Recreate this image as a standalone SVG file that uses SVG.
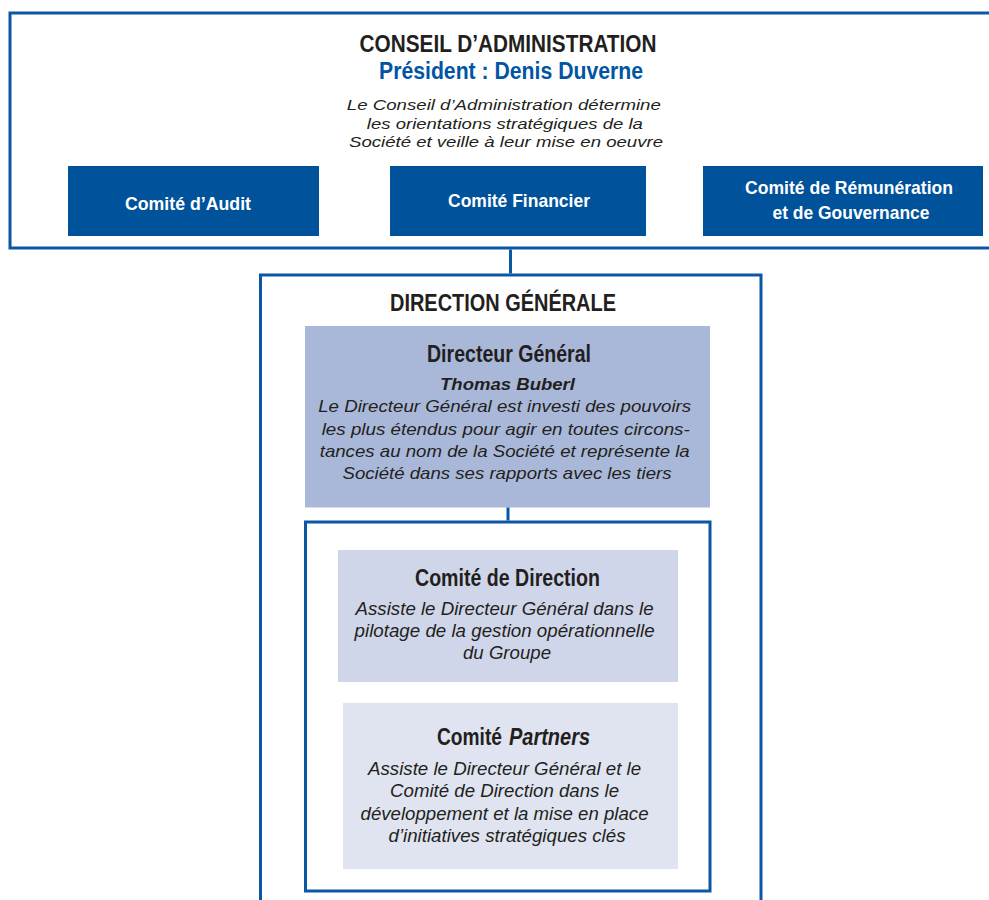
<svg xmlns="http://www.w3.org/2000/svg" width="989" height="900" viewBox="0 0 989 900">
<style>
.frame{fill:none;stroke:#0a57a3;stroke-width:3}
.conn{fill:none;stroke:#0a57a3;stroke-width:3}
.cbox{fill:#00529b}
.hd{font-family:"Liberation Sans Narrow","Liberation Sans",Arial,sans-serif;font-weight:bold;fill:#231f20;text-anchor:middle}
.wt{font-family:"Liberation Sans Narrow","Liberation Sans",Arial,sans-serif;font-weight:bold;fill:#ffffff;text-anchor:middle;font-size:19px}
.it{font-family:"Liberation Sans",Arial,sans-serif;font-style:italic;fill:#231f20;text-anchor:middle}
</style>
<rect width="989" height="900" fill="#ffffff"/>
<g id="conseil">
<rect class="frame" x="10" y="13" width="1000" height="235"/>
<text class="hd" x="508" y="52" font-size="24.5" textLength="297" lengthAdjust="spacingAndGlyphs">CONSEIL D’ADMINISTRATION</text>
<text class="hd" x="511" y="79" font-size="23" style="fill:#0055a4" textLength="264" lengthAdjust="spacingAndGlyphs">Président : Denis Duverne</text>
<text class="it" font-size="15.5">
<tspan x="506" y="110" textLength="314" lengthAdjust="spacingAndGlyphs">Le Conseil d’Administration détermine</tspan>
<tspan x="507" y="128.5" textLength="276" lengthAdjust="spacingAndGlyphs">les orientations stratégiques de la</tspan>
<tspan x="506" y="147" textLength="314" lengthAdjust="spacingAndGlyphs">Société et veille à leur mise en oeuvre</tspan>
</text>
</g>
<g id="comite-audit">
<rect class="cbox" x="68" y="166" width="251" height="70"/>
<text class="wt" x="188" y="210" textLength="126" lengthAdjust="spacingAndGlyphs">Comité d’Audit</text>
</g>
<g id="comite-financier">
<rect class="cbox" x="390" y="166" width="256" height="70"/>
<text class="wt" x="519" y="207" textLength="142" lengthAdjust="spacingAndGlyphs">Comité Financier</text>
</g>
<g id="comite-remuneration">
<rect class="cbox" x="703" y="166" width="280" height="70"/>
<text class="wt" x="849" y="194" textLength="208" lengthAdjust="spacingAndGlyphs">Comité de Rémunération</text>
<text class="wt" x="851" y="218.5" textLength="157" lengthAdjust="spacingAndGlyphs">et de Gouvernance</text>
</g>
<g id="direction-generale">
<path class="frame" d="M260.5,903 V275 H761 V903"/>
<text class="hd" x="503" y="311" font-size="24" textLength="226" lengthAdjust="spacingAndGlyphs">DIRECTION GÉNÉRALE</text>
</g>
<g id="directeur-general">
<rect x="305" y="326" width="405" height="181.5" fill="#a9b8d9"/>
<text class="hd" x="509" y="362" font-size="23" textLength="164" lengthAdjust="spacingAndGlyphs">Directeur Général</text>
<text class="it" x="507.5" y="389.5" font-size="17" font-weight="bold" textLength="135" lengthAdjust="spacingAndGlyphs">Thomas Buberl</text>
<text class="it" font-size="16.5">
<tspan x="507" y="412" textLength="373" lengthAdjust="spacingAndGlyphs">Le Directeur Général est investi des pouvoirs</tspan>
<tspan x="508" y="435" textLength="368" lengthAdjust="spacingAndGlyphs">les plus étendus pour agir en toutes circons-</tspan>
<tspan x="507" y="457" textLength="370" lengthAdjust="spacingAndGlyphs">tances au nom de la Société et représente la</tspan>
<tspan x="507" y="479" textLength="329" lengthAdjust="spacingAndGlyphs">Société dans ses rapports avec les tiers</tspan>
</text>
</g>
<g id="comites-direction">
<rect class="frame" x="305.5" y="522" width="404.5" height="369"/>
</g>
<g id="comite-direction">
<rect x="338" y="550" width="340" height="132" fill="#d0d6ea"/>
<text class="hd" x="507.5" y="586" font-size="23" textLength="185" lengthAdjust="spacingAndGlyphs">Comité de Direction</text>
<text class="it" font-size="17.5">
<tspan x="507" y="614.5" textLength="298" lengthAdjust="spacingAndGlyphs">Assiste le Directeur Général dans le</tspan>
<tspan x="507" y="637" textLength="300" lengthAdjust="spacingAndGlyphs">pilotage de la gestion opérationnelle</tspan>
<tspan x="507" y="658.5" textLength="88" lengthAdjust="spacingAndGlyphs">du Groupe</tspan>
</text>
</g>
<g id="comite-partners">
<rect x="343" y="703" width="335" height="166" fill="#dfe4f0"/>
<text class="hd" x="437" y="745" font-size="23" style="text-anchor:start" textLength="65" lengthAdjust="spacingAndGlyphs">Comité</text>
<text class="hd" x="509" y="745" font-size="23" font-style="italic" style="text-anchor:start" textLength="81" lengthAdjust="spacingAndGlyphs">Partners</text>
<text class="it" font-size="17.5">
<tspan x="507" y="775" textLength="273" lengthAdjust="spacingAndGlyphs">Assiste le Directeur Général et le</tspan>
<tspan x="507" y="797" textLength="229" lengthAdjust="spacingAndGlyphs">Comité de Direction dans le</tspan>
<tspan x="507" y="819.5" textLength="288" lengthAdjust="spacingAndGlyphs">développement et la mise en place</tspan>
<tspan x="507" y="842" textLength="237" lengthAdjust="spacingAndGlyphs">d’initiatives stratégiques clés</tspan>
</text>
</g>
<g id="connectors">
<line class="conn" x1="510.5" y1="249.5" x2="510.5" y2="273.5"/>
<line class="conn" x1="508" y1="507.5" x2="508" y2="520.5"/>
</g>
</svg>
